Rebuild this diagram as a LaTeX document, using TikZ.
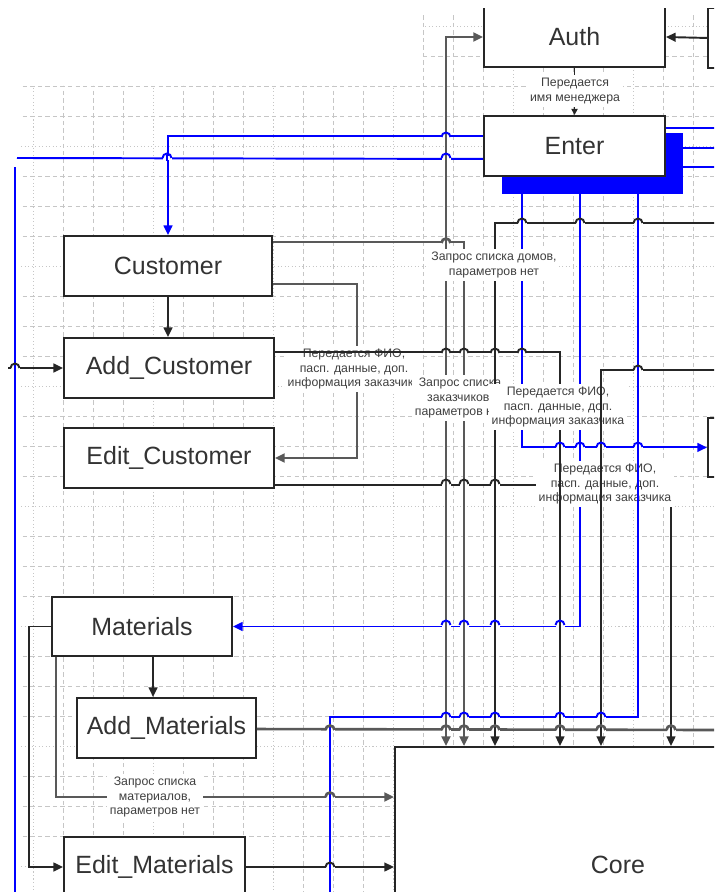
\documentclass[tikz,border=0pt]{standalone}
\usepackage{fontspec}
\setmainfont{Liberation Sans}
\usetikzlibrary{positioning,calc,arrows.meta}
\newcommand{\boxfont}{\fontsize{14.2}{16}\selectfont}
\newcommand{\lblfont}{\fontsize{7}{8.5}\selectfont}
\newcommand{\hop}[4]{%
  \fill[white] (#1-4.5,#2-1.9) rectangle (#1+4.5,#2+1.9);
  \draw[#4] (#1,#2-2.6) -- (#1,#2+2.6);
  \draw[#3] (#1-4.5,#2) arc[start angle=180,end angle=0,radius=2.55pt];}

\begin{document}
\begin{tikzpicture}[
    x=0.02cm, y=-0.02cm,
    blk/.style={rectangle, draw=black!85, fill=white, line width=1.1pt,
                font=\boxfont, text=black!80, inner sep=2pt},
    flow/.style={draw=black!85, line width=1.1pt},
    gflow/.style={draw=black!65, line width=1.5pt},
    bflow/.style={draw=blue, line width=1.1pt},
    lbl/.style={fill=white, inner sep=1.5pt, align=center, font=\lblfont, text=black!75},
    gridA/.style={draw=gray!45, line width=0.3pt, dash pattern=on 2.5pt off 1.8pt},
    gridB/.style={draw=gray!45, line width=0.3pt, dash pattern=on 0.6pt off 1.4pt},
    >={Triangle[length=5.5pt,width=5pt]}
]
\useasboundingbox (0,0) rectangle (714,892);
\clip (0,8.5) rectangle (714,892);

\begin{scope}
    \clip (20,86) rectangle (714,892) (423,13) rectangle (714,86);
    \foreach \gx in {3,63,93,123,183,213,243,303,333,363,423,453,483,543,573,603,663,693}
        \draw[gridA] (\gx,0) -- (\gx,892);
    \foreach \gx in {33,153,273,393,513,633}
        \draw[gridB] (\gx,0) -- (\gx,892);
    \foreach \gy in {56,86,116,176,206,236,296,326,356,416,446,476,536,566,596,656,686,716,776,806,836}
        \draw[gridA] (0,\gy) -- (714,\gy);
    \foreach \gy in {26,146,266,386,506,626,746,866}
        \draw[gridB] (0,\gy) -- (714,\gy);
\end{scope}

\node[blk, minimum width=3.62cm, minimum height=1.2cm] (auth) at (574.5,37) {Auth};
\fill[blue] (502,133) rectangle (683,194);
\node[blk, minimum width=3.62cm, minimum height=1.2cm] (enter) at (574.5,146) {Enter};
\node[blk, minimum width=4.16cm, minimum height=1.2cm] (customer) at (168,266) {Customer};
\node[blk, minimum width=4.2cm, minimum height=1.2cm] (addcust) at (169,368) {Add\_Customer};
\node[blk, minimum width=4.2cm, minimum height=1.2cm] (editcust) at (169,458) {Edit\_Customer};
\node[blk, minimum width=3.6cm, minimum height=1.18cm] (materials) at (142,626.5) {Materials};
\node[blk, minimum width=3.58cm, minimum height=1.2cm] (addmat) at (166.5,728) {Add\_Materials};
\node[blk, minimum width=3.62cm, minimum height=1.2cm] (editmat) at (154.5,867) {Edit\_Materials};
\node[blk, anchor=north west, minimum width=6.92cm, minimum height=3.6cm] (core) at (394,746) {};
\node[font=\boxfont, text=black!80] (corelbl) at (618,865) {Core};
\node[blk, anchor=north west, minimum width=1.2cm, minimum height=1.2cm] (rboxa) at (707,7) {};
\node[blk, anchor=north west, minimum width=1.2cm, minimum height=1.18cm] (rboxb) at (707,417) {};

\foreach \kx in {446,464,495,560,601,671}
    \coordinate (k\kx) at (\kx,746);
\foreach \ex in {522,580,638}
    \coordinate (e\ex) at (\ex,194);
\coordinate (lft158) at (17,158);
\coordinate (lft167) at (15,167);
\coordinate (lftbot) at (15,900);
\coordinate (lft368) at (8,368);
\coordinate (b717) at (330,717);
\coordinate (bbot) at (330,900);
\coordinate (rgt223) at (720,223);
\coordinate (rgt370) at (720,370);
\coordinate (rgt730) at (720,730);

\draw[gflow, ->] ($(customer.south east)+(0,-13)$) -- ++(84,0) |- (editcust.east);
\node[lbl] (lblfio1) at (354,369) {Передается ФИО,\\пасп. данные, доп.\\информация заказчика};

\draw[gflow, <->] (auth.west) -| (k446);
\draw[gflow, ->] ($(customer.north east)+(0,7)$) -| (k464);
\node[lbl] (lblcust) at (460,398) {Запрос списка\\заказчиков,\\параметров нет};

\draw[bflow, ->] ($(enter.north west)+(0,21)$) -| (customer.north);
\draw[bflow] (lft158) -- ($(enter.south west)+(0,-18)$);
\draw[bflow] (lft167) -- (lftbot);
\draw[bflow, ->] (e522) |- (rboxb.west);
\draw[bflow, ->] (e580) |- (materials.east);
\draw[bflow] ($(enter.north east)+(0,13)$) -- ++(60,0);
\draw[bflow] (683,148) -- ++(40,0);
\draw[bflow] (683,167) -- ++(40,0);

\draw[flow, ->] ($(editcust.south east)+(0,-4)$) -| (k671);
\node[lbl] (lblfio3) at (605,484) {Передается ФИО,\\пасп. данные, доп.\\информация заказчика};

\draw[bflow] (e638) |- (b717) -- (bbot);
\draw[flow, ->] (rgt223) -| (k495);
\node[lbl] (lblhouses) at (494,265) {Запрос списка домов,\\параметров нет};

\draw[flow, ->] ($(addcust.north east)+(0,15)$) -| (k560);
\node[lbl] (lblfio2) at (558,407) {Передается ФИО,\\пасп. данные, доп.\\информация заказчика};
\draw[flow, ->] (rgt370) -| (k601);

\draw[flow, -{Triangle[length=3.5pt,width=3.5pt]}] (auth.south) -- (enter.north);
\node[lbl] (lblmgr) at (575,91) {Передается\\имя менеджера};
\draw[flow, ->] (rboxa.west) -- (auth.east);
\draw[flow, ->] (customer.south) -- (customer.south |- addcust.north);
\draw[flow, ->] (lft368) -- (addcust.west);
\draw[flow, ->] ($(materials.south west)+(102,0)$) -- ($(addmat.north west)+(77,0)$);
\draw[flow, ->] (materials.west) -- ++(-22,0) |- (editmat.west);
\draw[gflow, ->] ($(materials.south west)+(5,0)$) |- ($(core.north west)+(0,51)$);
\node[lbl] (lblmat) at (155,797) {Запрос списка\\материалов,\\параметров нет};
\draw[flow, ->] (editmat.east) -- (editmat.east -| core.west);
\draw[gflow] ($(addmat.north east)+(0,32)$) -- (rgt730);

\foreach \hx/\hy/\hs/\vs in {446/137/bflow/gflow, 167/158/bflow/bflow, 446/158/bflow/gflow,
        446/243/gflow/gflow, 522/223/flow/bflow, 580/223/flow/bflow, 638/223/flow/bflow,
        446/353/flow/gflow, 464/353/flow/gflow, 495/353/flow/flow, 522/353/flow/bflow,
        638/370/flow/bflow, 15/368/flow/bflow,
        560/447/bflow/flow, 580/447/bflow/bflow, 601/447/bflow/flow, 638/447/bflow/bflow,
        446/484/flow/gflow, 464/484/flow/gflow, 495/484/flow/flow,
        446/625/bflow/gflow, 464/625/bflow/gflow, 495/625/bflow/flow, 560/625/bflow/flow,
        446/717/bflow/gflow, 464/717/bflow/gflow, 495/717/bflow/flow, 560/717/bflow/flow, 601/717/bflow/flow,
        330/730/gflow/bflow, 446/730/gflow/gflow, 464/730/gflow/gflow, 495/730/gflow/flow,
        560/730/gflow/flow, 601/730/gflow/flow, 671/730/gflow/flow,
        330/797/gflow/bflow, 330/867/flow/bflow}
    {\edef\dohop{\noexpand\hop{\hx}{\hy}{\hs}{\vs}}\dohop}

\end{tikzpicture}
\end{document}
